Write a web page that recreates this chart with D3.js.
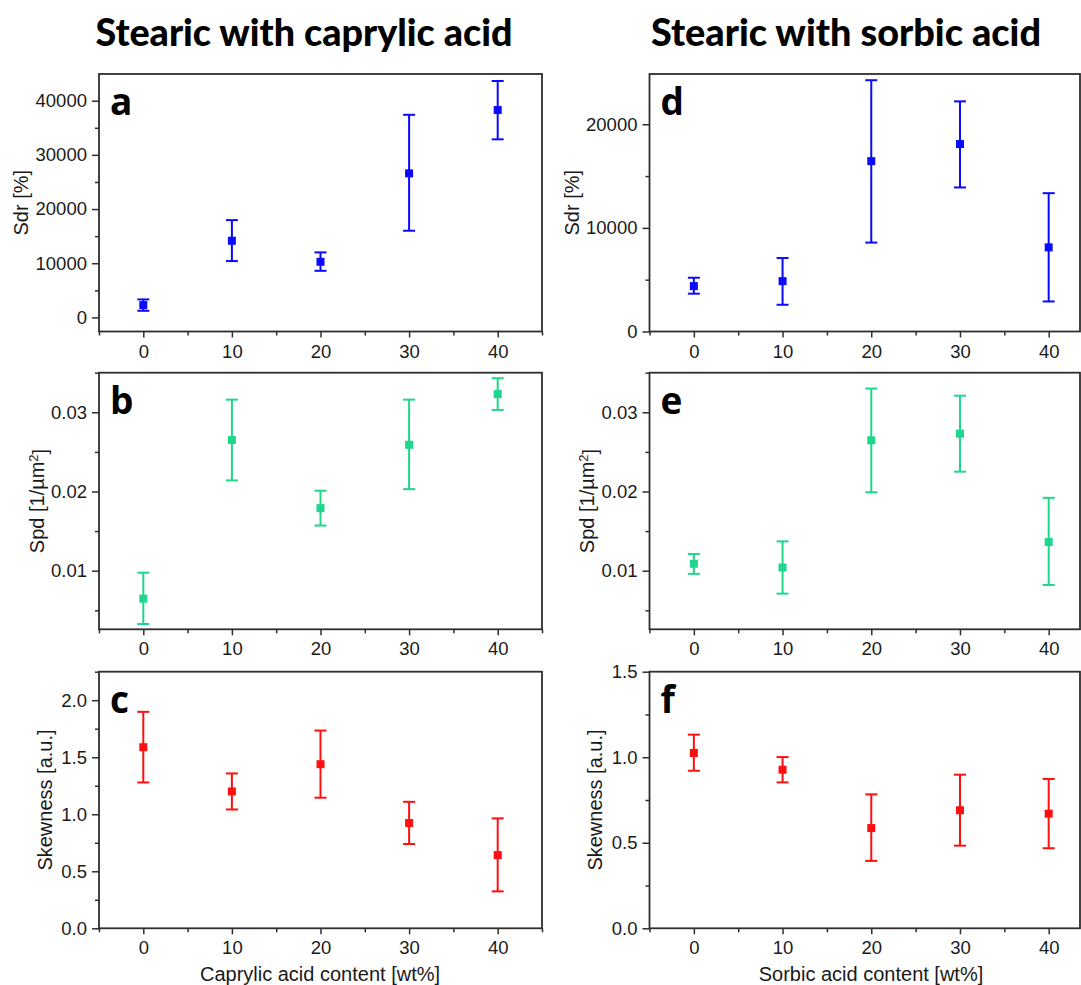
<!DOCTYPE html>
<html>
<head>
<meta charset="utf-8">
<script src="https://cdn.jsdelivr.net/npm/d3@7"></script>
<style>
  body { margin: 0; background: #fff; }
  svg { display: block; }
  text { font-family: "Liberation Sans", Arial, sans-serif; fill: #1a1a1a; }
</style>
</head>
<body>
<div id="chart"></div>
<script>
// acid content (wt%)
var content = [0, 10, 20, 30, 40];

// stearic + caprylic
var sdrCap   = [2270, 14150, 10270, 26590, 38280];
var sdrCapLo = [1220, 10400, 8600, 16000, 32870];
var sdrCapHi = [3320, 17960, 12000, 37400, 43640];

var spdCap   = [0.00647, 0.0265, 0.0179, 0.0259, 0.0323];
var spdCapLo = [0.00327, 0.0214, 0.0157, 0.0203, 0.0303];
var spdCapHi = [0.00975, 0.0316, 0.0201, 0.0316, 0.0343];

var skCap   = [1.588, 1.20, 1.439, 0.923, 0.642];
var skCapLo = [1.279, 1.042, 1.145, 0.739, 0.324];
var skCapHi = [1.898, 1.358, 1.734, 1.109, 0.964];

// stearic + sorbic
var sdrSor   = [4380, 4860, 16440, 18090, 8120];
var sdrSorLo = [3650, 2580, 8580, 13900, 2900];
var sdrSorHi = [5190, 7090, 24250, 22210, 13350];

var spdSor   = [0.01088, 0.0104, 0.02646, 0.0273, 0.01362];
var spdSorLo = [0.0096, 0.0071, 0.0199, 0.0225, 0.0082];
var spdSorHi = [0.0121, 0.0137, 0.0330, 0.0321, 0.0192];

var skSor   = [1.025, 0.927, 0.586, 0.690, 0.670];
var skSorLo = [0.921, 0.853, 0.394, 0.483, 0.468];
var skSorHi = [1.132, 1.001, 0.783, 0.898, 0.873];

var titles = ["Stearic with caprylic acid", "Stearic with sorbic acid"];
var xTitles = ["Caprylic acid content [wt%]", "Sorbic acid content [wt%]"];
var xTicks = [0, 10, 20, 30, 40];
var xMinor = [-5, 5, 15, 25, 35, 45];

var blue = "#0a0aff", green = "#1fd68d", red = "#ff1010";

var W = 1081, H = 985;
var svg = d3.select("#chart").append("svg").attr("width", W).attr("height", H);

// column / row geometry
var cols = [
  { x0: 99, x1: 542, dom: [-5, 45], titleX: 304, xTitleX: 320 },
  { x0: 649.5, x1: 1080, dom: [-5, 43.53], titleX: 846, xTitleX: 871 }
];
var rows = [
  { y0: 74, y1: 331.5 },
  { y0: 372.7, y1: 629.3 },
  { y0: 671.7, y1: 928.3 }
];

var panels = [
  { letter: "a", c: 0, r: 0, v: sdrCap, lo: sdrCapLo, hi: sdrCapHi, dom: [-2600, 44930], major: 10000, minor: 5000, fmt: d3.format("d"), label: "Sdr [%]", color: blue, labX: 21 },
  { letter: "b", c: 0, r: 1, v: spdCap, lo: spdCapLo, hi: spdCapHi, dom: [0.0026, 0.035], major: 0.01, minor: 0.005, fmt: d3.format(".2f"), label: "Spd", color: green, labX: 36.5 },
  { letter: "c", c: 0, r: 2, v: skCap, lo: skCapLo, hi: skCapHi, dom: [0, 2.25], major: 0.5, minor: 0.25, fmt: d3.format(".1f"), label: "Skewness [a.u.]", color: red, labX: 45 },
  { letter: "d", c: 1, r: 0, v: sdrSor, lo: sdrSorLo, hi: sdrSorHi, dom: [0, 24850], major: 10000, minor: 5000, fmt: d3.format("d"), label: "Sdr [%]", color: blue, labX: 572 },
  { letter: "e", c: 1, r: 1, v: spdSor, lo: spdSorLo, hi: spdSorHi, dom: [0.0026, 0.035], major: 0.01, minor: 0.005, fmt: d3.format(".2f"), label: "Spd", color: green, labX: 587 },
  { letter: "f", c: 1, r: 2, v: skSor, lo: skSorLo, hi: skSorHi, dom: [0, 1.5], major: 0.5, minor: 0.25, fmt: d3.format(".1f"), label: "Skewness [a.u.]", color: red, labX: 595 }
];

function stepTicks(dom, step, skip) {
  var out = [];
  var start = Math.ceil(dom[0] / step - 1e-6);
  for (var k = start; k * step <= dom[1] + step * 1e-6; k++) {
    var t = +(k * step).toFixed(6);
    if (skip && Math.abs(Math.round(t / skip) * skip - t) < skip * 1e-6) continue;
    out.push(t);
  }
  return out;
}

// column titles
titles.forEach(function(t, i) {
  svg.append("text")
    .attr("x", cols[i].titleX).attr("y", 46)
    .attr("text-anchor", "middle")
    .style("font-family", "Lato, 'Open Sans', sans-serif")
    .style("font-weight", "900")
    .style("font-size", "37px")
    .style("fill", "#000")
    .attr("textLength", i == 0 ? 417 : 390)
    .attr("lengthAdjust", "spacingAndGlyphs")
    .text(t);
});

panels.forEach(function(p) {
  var col = cols[p.c], row = rows[p.r];
  var x = d3.scaleLinear().domain(col.dom).range([col.x0, col.x1]);
  var y = d3.scaleLinear().domain(p.dom).range([row.y1, row.y0]);
  var g = svg.append("g");

  // y axis, major + minor
  g.append("g").attr("transform", "translate(" + col.x0 + ",0)")
    .call(d3.axisLeft(y).tickValues(stepTicks(p.dom, p.major)).tickSize(7).tickSizeOuter(0).tickPadding(5).tickFormat(p.fmt))
    .call(styleAxis);
  g.append("g").attr("transform", "translate(" + col.x0 + ",0)")
    .call(d3.axisLeft(y).tickValues(stepTicks(p.dom, p.minor, p.major)).tickSize(4).tickSizeOuter(0).tickFormat(""))
    .call(styleAxis);

  // x axis, major + minor
  g.append("g").attr("transform", "translate(0," + row.y1 + ")")
    .call(d3.axisBottom(x).tickValues(xTicks).tickSize(6).tickSizeOuter(0).tickPadding(7).tickFormat(d3.format("d")))
    .call(styleAxis);
  g.append("g").attr("transform", "translate(0," + row.y1 + ")")
    .call(d3.axisBottom(x).tickValues(xMinor.filter(function(d) { return d >= col.dom[0] && d <= col.dom[1]; })).tickSize(4).tickSizeOuter(0).tickFormat(""))
    .call(styleAxis);

  // frame
  g.append("rect")
    .attr("x", col.x0).attr("y", row.y0)
    .attr("width", col.x1 - col.x0).attr("height", row.y1 - row.y0)
    .attr("fill", "none").attr("stroke", "#2e2e2e").attr("stroke-width", 1.8);

  // y label
  var lab = g.append("text")
    .attr("transform", "translate(" + p.labX + "," + ((row.y0 + row.y1) / 2) + ") rotate(-90)")
    .attr("text-anchor", "middle").attr("dy", "0.35em")
    .style("font-size", "20px");
  if (p.label == "Spd") {
    lab.append("tspan").text("Spd [1/\u00b5m");
    lab.append("tspan").attr("dy", "-0.45em").style("font-size", "13px").text("2");
    lab.append("tspan").attr("dy", "0.45em").text("]");
  } else {
    lab.text(p.label);
  }

  // panel letter
  g.append("text")
    .attr("x", col.x0 + 11).attr("y", row.y0 + 41)
    .style("font-family", "'Open Sans', Lato, sans-serif")
    .style("font-weight", "bold").style("font-size", "37px").style("fill", "#000")
    .text(p.letter);

  // error bars
  var pts = content.map(function(c, i) { return { x: c, v: p.v[i], lo: p.lo[i], hi: p.hi[i] }; });
  var eb = g.append("g").attr("stroke", p.color).attr("stroke-width", 2);
  eb.selectAll("line.v").data(pts).enter().append("line")
    .attr("x1", function(d) { return x(d.x); }).attr("x2", function(d) { return x(d.x); })
    .attr("y1", function(d) { return y(d.lo); }).attr("y2", function(d) { return y(d.hi); });
  ["lo", "hi"].forEach(function(k) {
    eb.selectAll("line." + k).data(pts).enter().append("line")
      .attr("x1", function(d) { return x(d.x) - 6; }).attr("x2", function(d) { return x(d.x) + 6; })
      .attr("y1", function(d) { return y(d[k]); }).attr("y2", function(d) { return y(d[k]); });
  });
  g.selectAll("rect.pt").data(pts).enter().append("rect")
    .attr("x", function(d) { return x(d.x) - 4; }).attr("y", function(d) { return y(d.v) - 4; })
    .attr("width", 8).attr("height", 8).attr("fill", p.color);

  // x title only on bottom row
  if (p.r == 2) {
    svg.append("text")
      .attr("x", col.xTitleX).attr("y", 981)
      .attr("text-anchor", "middle").style("font-size", "20px")
      .text(xTitles[p.c]);
  }
});

function styleAxis(sel) {
  sel.select(".domain").remove();
  sel.selectAll(".tick line").attr("stroke", "#2e2e2e").attr("stroke-width", 1.5);
  sel.selectAll(".tick text").style("font-size", "18.5px").style("fill", "#1a1a1a")
    .style("font-family", "'Liberation Sans', Arial, sans-serif");
}
</script>
</body>
</html>
